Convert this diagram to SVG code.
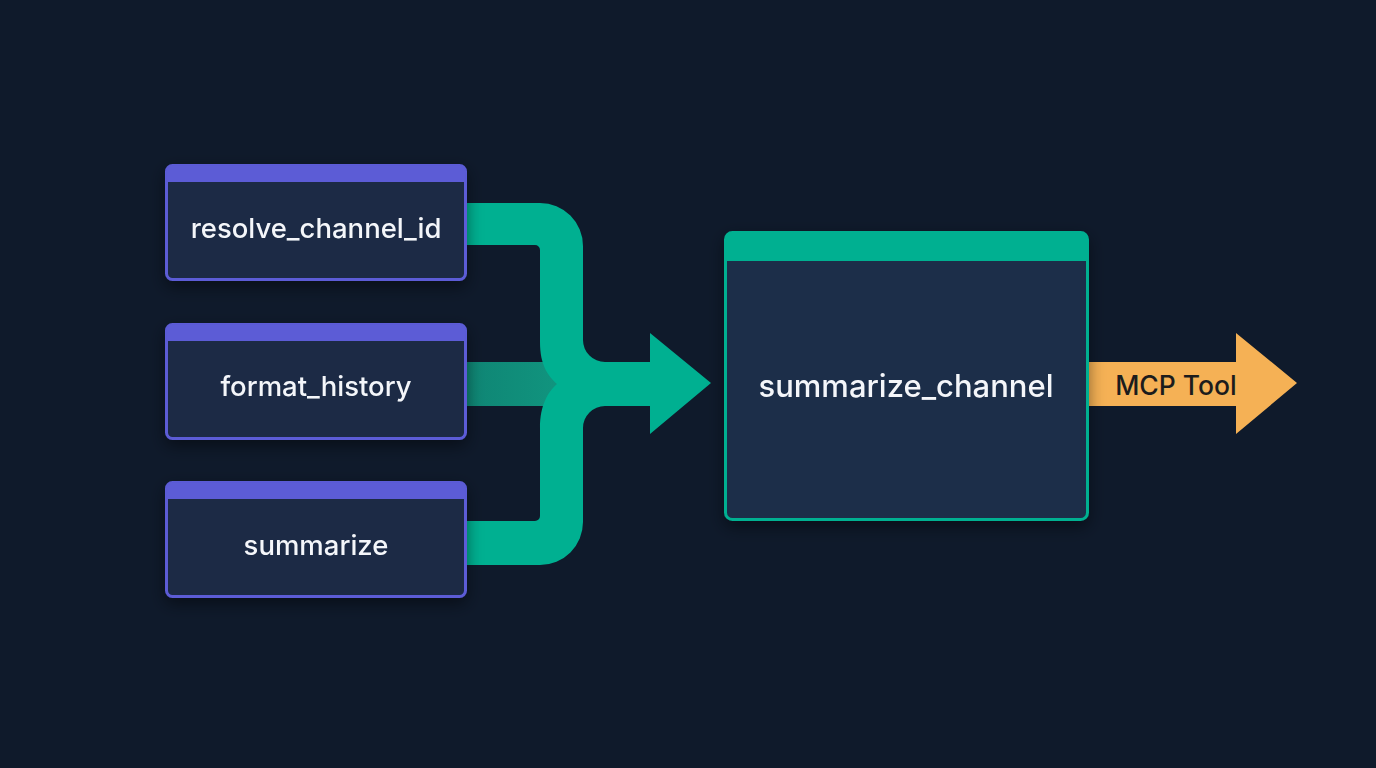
<svg xmlns="http://www.w3.org/2000/svg" width="1376" height="768" viewBox="0 0 1376 768">
<defs>
<style>
.lbl{font-family:"Inter","Liberation Sans",sans-serif;font-weight:500;fill:#f4f6fa;text-anchor:middle;dominant-baseline:central}
.small{fill:#1b2a45;stroke:#5b5bd6;stroke-width:3}
.hdr{fill:#5b5bd6}
</style>
<filter id="sh" x="-20%" y="-20%" width="140%" height="150%">
<feDropShadow dx="0" dy="6" stdDeviation="8" flood-color="#000" flood-opacity="0.45"/>
</filter>
<linearGradient id="mid" x1="0" y1="0" x2="1" y2="0">
<stop offset="0" stop-color="#0f8574"/>
<stop offset="1" stop-color="#11957f"/>
</linearGradient>
</defs>
<rect width="1376" height="768" fill="#0f1a2b"/>
<g id="connectors">
<rect x="466" y="362" width="96" height="44" fill="url(#mid)"/>
<path d="M466,203 H540 A43,43 0 0 1 583,246 V340 A22,22 0 0 0 605,362 H650 V333 L711,383 L650,434 V406 H605 A22,22 0 0 0 583,428 V522 A43,43 0 0 1 540,565 H466 V521 H535 A5,5 0 0 0 540,516 V428 C540,405 548,392 557,384 C548,376 540,365 540,342 V250 A5,5 0 0 0 535,245 H466 Z" fill="#00b091"/>
<path d="M1088,362 H1236 V333 L1297,383 L1236,434 V406 H1088 Z" fill="#f5b155"/>
<text x="1176" y="385" class="lbl" style="fill:#1c1c1c;font-size:26.5px">MCP Tool</text>
</g>
<g id="n1" filter="url(#sh)">
<rect x="166.5" y="165.5" width="299" height="114" rx="6" class="small"/>
<path d="M166.5,182 V171.5 A6,6 0 0 1 172.5,165.5 H459.5 A6,6 0 0 1 465.5,171.5 V182 Z" class="hdr"/>
<text x="316" y="228" class="lbl" style="font-size:27.5px">resolve_channel_id</text>
</g>
<g id="n2" filter="url(#sh)">
<rect x="166.5" y="324.5" width="299" height="114" rx="6" class="small"/>
<path d="M166.5,341 V330.5 A6,6 0 0 1 172.5,324.5 H459.5 A6,6 0 0 1 465.5,330.5 V341 Z" class="hdr"/>
<text x="316" y="386" class="lbl" style="font-size:27.5px">format_history</text>
</g>
<g id="n3" filter="url(#sh)">
<rect x="166.5" y="482.5" width="299" height="114" rx="6" class="small"/>
<path d="M166.5,499 V488.5 A6,6 0 0 1 172.5,482.5 H459.5 A6,6 0 0 1 465.5,488.5 V499 Z" class="hdr"/>
<text x="316" y="545" class="lbl" style="font-size:27.5px">summarize</text>
</g>
<g id="n4" filter="url(#sh)">
<rect x="725.5" y="232.5" width="362" height="287" rx="7" fill="#1b2d48" stroke="#00b091" stroke-width="3"/>
<path d="M725.5,261 V239.5 A7,7 0 0 1 732.5,232.5 H1080.5 A7,7 0 0 1 1087.5,239.5 V261 Z" fill="#00b091"/>
<text x="906" y="385" class="lbl" style="font-size:31px">summarize_channel</text>
</g>
</svg>
